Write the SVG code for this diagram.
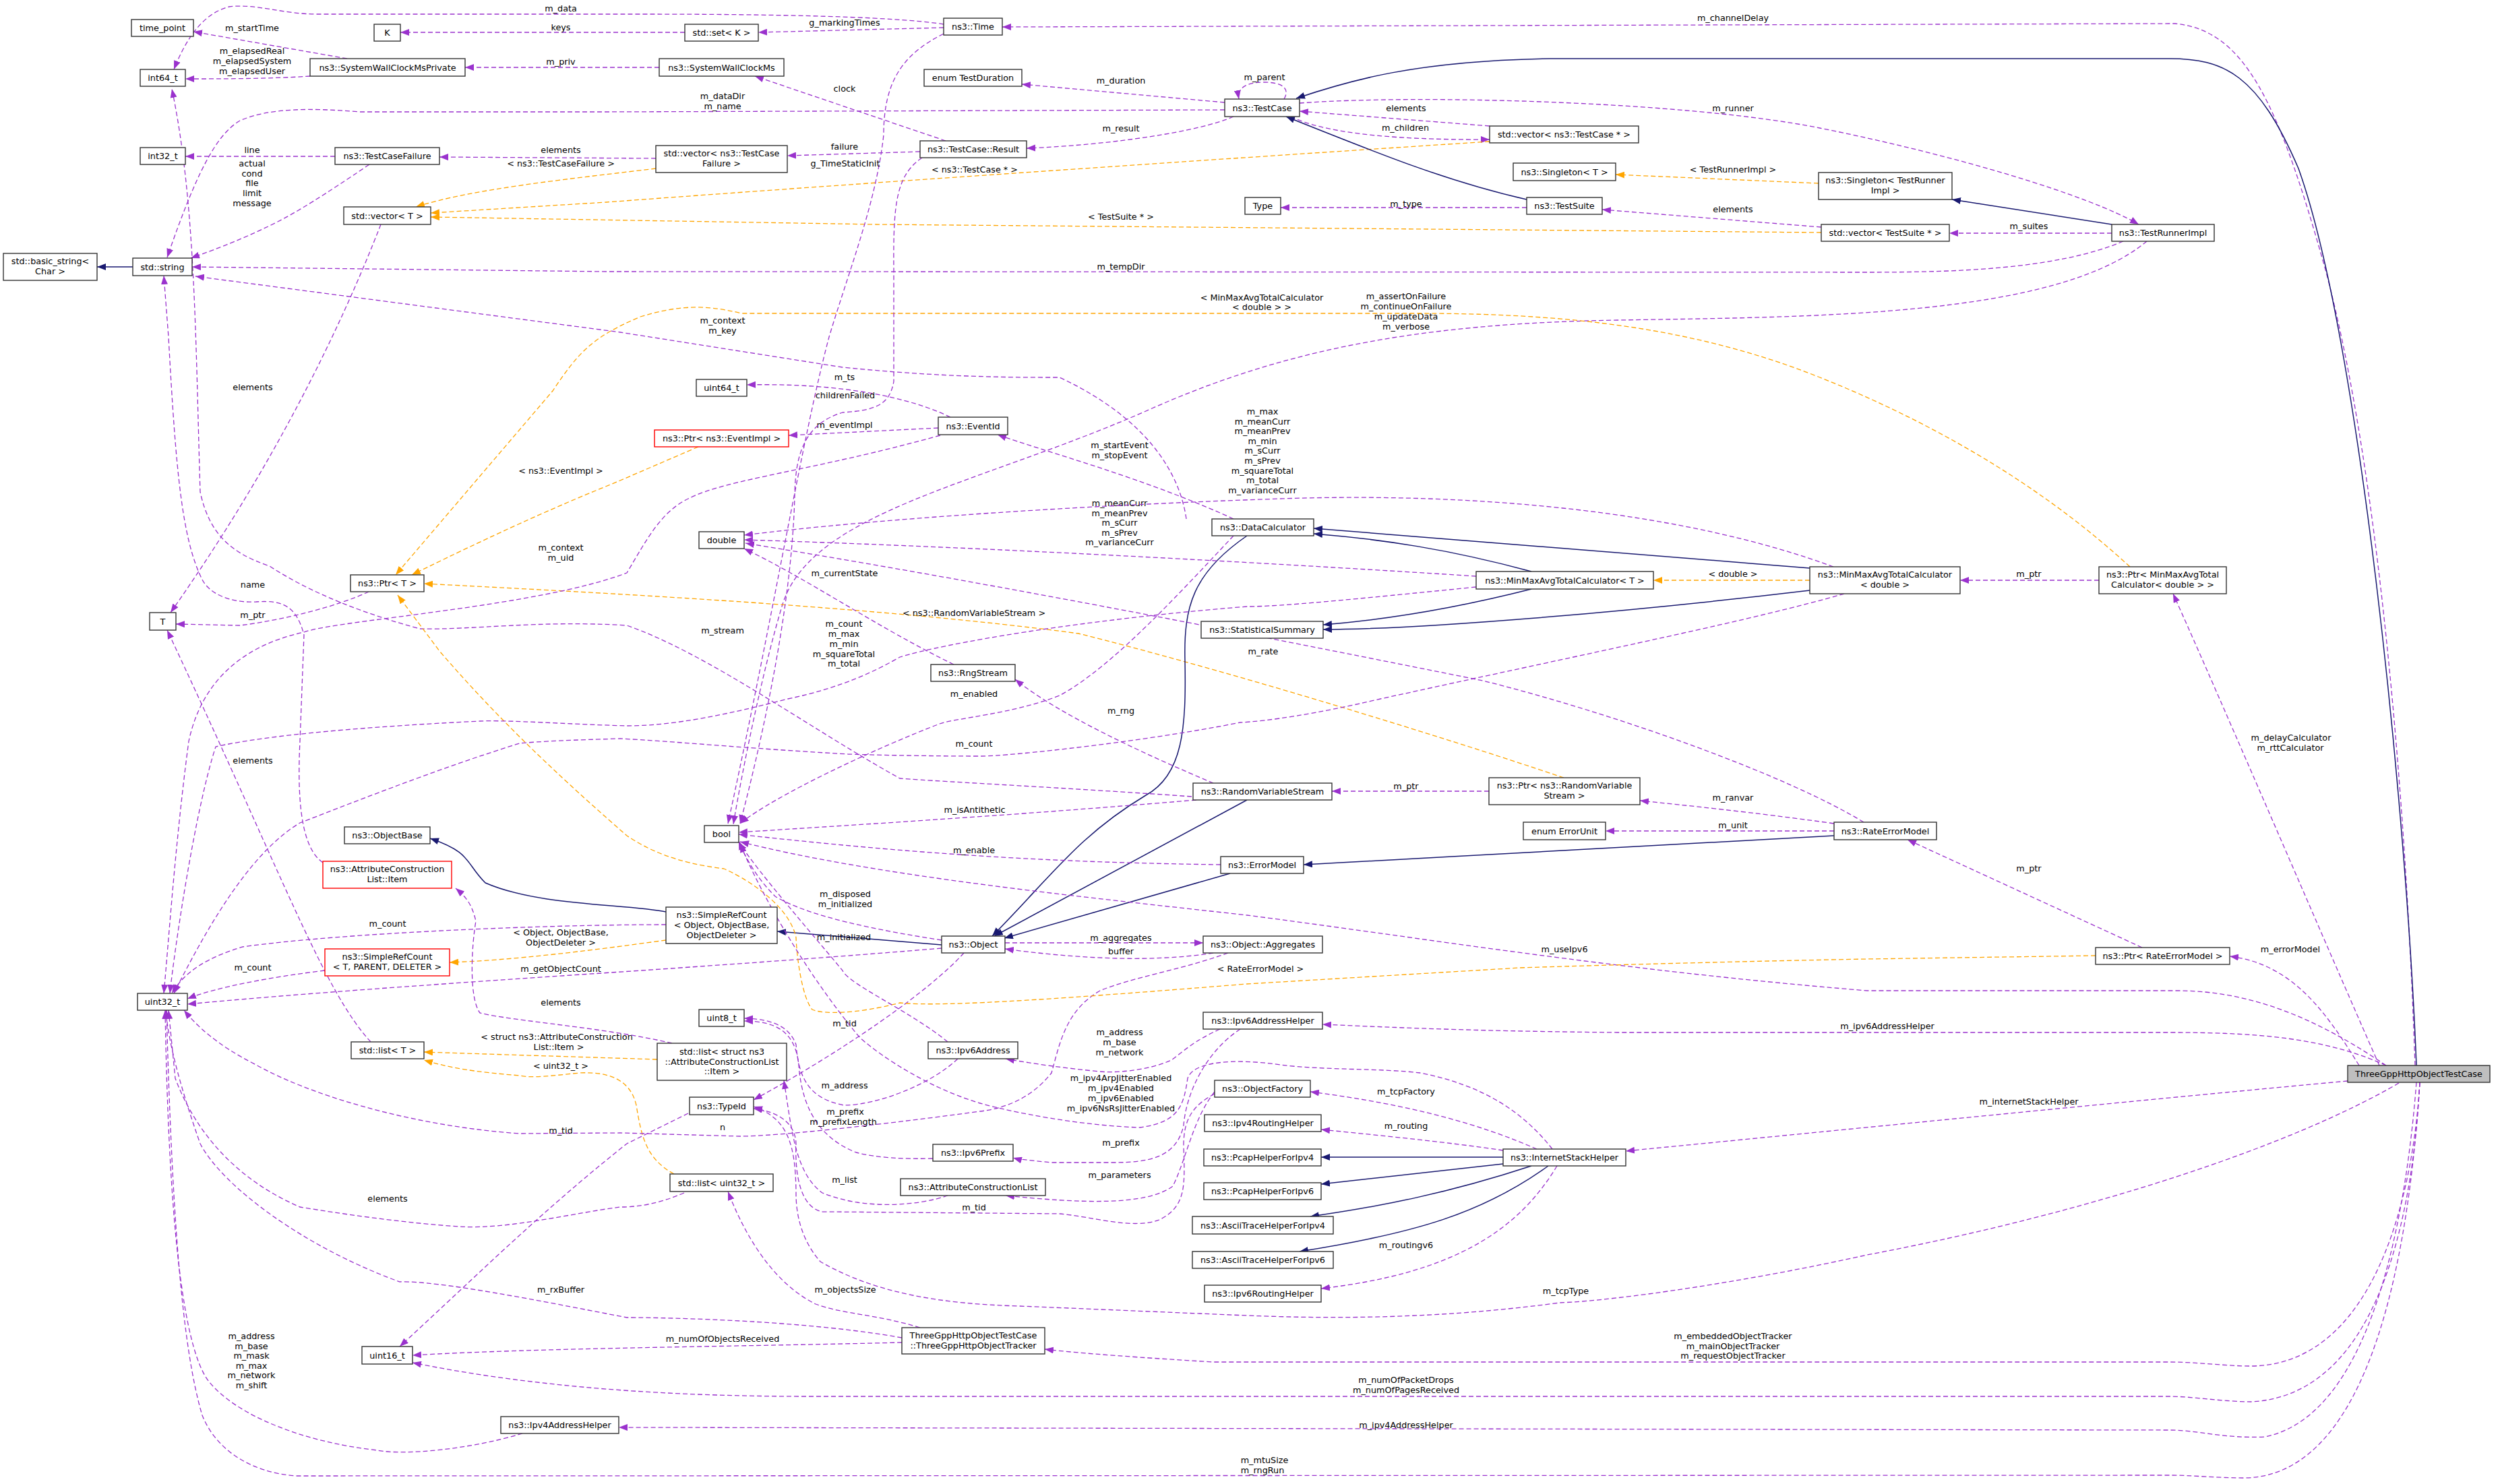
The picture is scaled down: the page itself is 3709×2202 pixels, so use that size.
<svg xmlns="http://www.w3.org/2000/svg" width="3709" height="2202" viewBox="0 0 3709 2202">
<defs>
<marker id="ap" markerUnits="userSpaceOnUse" markerWidth="14" markerHeight="10" refX="13" refY="5" orient="auto"><path d="M0,0 L13,5 L0,10 z" fill="#9a32cd"/></marker>
<marker id="an" markerUnits="userSpaceOnUse" markerWidth="14" markerHeight="10" refX="13" refY="5" orient="auto"><path d="M0,0 L13,5 L0,10 z" fill="#191970"/></marker>
<marker id="ao" markerUnits="userSpaceOnUse" markerWidth="14" markerHeight="10" refX="13" refY="5" orient="auto"><path d="M0,0 L13,5 L0,10 z" fill="#ffa500"/></marker>
<style>
.p{fill:none;stroke:#9a32cd;stroke-width:1.3;stroke-dasharray:7,4;marker-end:url(#ap)}
.n{fill:none;stroke:#191970;stroke-width:1.5;marker-end:url(#an)}
.o{fill:none;stroke:#ffa500;stroke-width:1.3;stroke-dasharray:7,4;marker-end:url(#ao)}
text{font-family:"DejaVu Sans",sans-serif;font-size:12.8px;text-anchor:middle;fill:#000}
rect{fill:#fff;stroke:#333;stroke-width:1.4}
rect.r{stroke:#ff0000}
rect.m{fill:#bfbfbf}
</style>
</defs>
<rect width="3709" height="2202" style="fill:#fff;stroke:none"/>
<g id="edges">
<path class="p" d="M1400,36 C1300,20 1000,21 900,21 L470,21 C420,21 380,5 340,10 C300,20 275,60 258,103"/><text x="832" y="17">m_data</text>
<path class="p" d="M1016,48 L594,48"/><text x="832" y="45">keys</text>
<path class="p" d="M1400,41 L1125,48"/><text x="1253" y="38">g_markingTimes</text>
<path class="p" d="M515,87 L287,47"/><text x="374" y="46">m_startTime</text>
<path class="p" d="M460,113 C400,117 330,117 275,117"/><text x="374" y="80">m_elapsedReal<tspan x="374" dy="15">m_elapsedSystem</tspan><tspan x="374" dy="15">m_elapsedUser</tspan></text>
<path class="p" d="M978,100 L690,100"/><text x="832" y="96">m_priv</text>
<path class="p" d="M1403,209 L1120,113"/><text x="1253" y="136">clock</text>
<path class="p" d="M1817,163 L900,166 L534,166 C460,160 400,160 356,179 C320,200 290,260 248,382"/><text x="1072" y="147">m_dataDir<tspan x="1072" dy="15">m_name</tspan></text>
<path class="p" d="M1817,152 L1516,125"/><text x="1663" y="124">m_duration</text>
<path class="p" d="M1830,173 C1780,195 1650,215 1523,220"/><text x="1663" y="195">m_result</text>
<path class="p" d="M1905,147 C1915,130 1900,122 1875,122 C1850,122 1835,130 1838,147"/><text x="1876" y="119">m_parent</text>
<path class="p" d="M1928,153 C2100,140 2500,150 2700,190 C2900,230 3100,290 3173,333"/><text x="2571" y="165">m_runner</text>
<path class="p" d="M2210,187 L1928,165"/><text x="2086" y="165">elements</text>
<path class="p" d="M1915,173 C1960,195 2050,208 2210,207"/><text x="2085" y="194">m_children</text>
<path class="o" d="M2210,210 C1900,230 1300,270 900,300 L639,316"/><text x="1446" y="256">&lt; ns3::TestCase * &gt;</text>
<path class="n" d="M2265,296 C2150,270 2050,230 1908,173"/>
<path class="p" d="M2265,308 L1900,308"/><text x="2086" y="307">m_type</text>
<path class="p" d="M2702,337 L2377,311"/><text x="2571" y="315">elements</text>
<path class="o" d="M2702,345 L1300,333 L639,322"/><text x="1663" y="326">&lt; TestSuite * &gt;</text>
<path class="o" d="M973,250 C850,265 700,280 617,307"/><text x="832" y="247">&lt; ns3::TestCaseFailure &gt;</text>
<path class="p" d="M973,235 L652,233"/><text x="832" y="227">elements</text>
<path class="p" d="M1365,225 L1168,231"/><text x="1253" y="222">failure</text>
<path class="p" d="M497,232 L275,232"/><text x="374" y="227">line</text>
<path class="p" d="M548,244 C480,290 440,315 410,330 C350,360 305,375 283,383"/><text x="374" y="247">actual<tspan x="374" dy="15">cond</tspan><tspan x="374" dy="14">file</tspan><tspan x="374" dy="15">limit</tspan><tspan x="374" dy="15">message</tspan></text>
<path class="n" d="M197,396 L144,396"/>
<path class="p" d="M3150,358 C3050,400 2900,404 2770,404 L900,403 L285,396"/><text x="1663" y="400">m_tempDir</text>
<path class="p" d="M1760,770 C1750,700 1700,620 1572,560 C1500,560 1400,560 1250,545 L920,493 L290,410"/><text x="1072" y="480">m_context<tspan x="1072" dy="15">m_key</tspan></text>
<path class="p" d="M3185,358 C3050,470 2700,470 2400,475 C2100,480 1900,520 1700,610 C1450,720 1200,760 1160,900 C1130,1000 1100,1150 1088,1223"/><text x="2086" y="444">m_assertOnFailure<tspan x="2086" dy="15">m_continueOnFailure</tspan><tspan x="2086" dy="15">m_updateData</tspan><tspan x="2086" dy="15">m_verbose</tspan></text>
<path class="o" d="M3160,841 C3050,740 2900,640 2700,560 C2500,480 2300,465 2100,465 L1100,465 C1040,450 1000,455 950,470 C880,500 860,520 820,580 L587,853"/><text x="1872" y="446">&lt; MinMaxAvgTotalCalculator<tspan x="1872" dy="14">&lt; double &gt; &gt;</tspan></text>
<path class="o" d="M1036,663 L920,713 C880,730 800,760 611,853"/><text x="832" y="703">&lt; ns3::EventImpl &gt;</text>
<path class="o" d="M2320,1154 C2100,1080 1800,990 1600,940 C1300,900 900,880 629,866"/><text x="1445" y="914">&lt; ns3::RandomVariableStream &gt;</text>
<path class="o" d="M2685,861 L2453,861"/><text x="2571" y="856">&lt; double &gt;</text>
<path class="p" d="M3114,861 L2908,861"/><text x="3010" y="856">m_ptr</text>
<path class="n" d="M2685,843 C2400,820 2100,795 1949,784"/>
<path class="n" d="M2685,876 C2400,910 2100,934 1963,934"/>
<path class="n" d="M2272,848 C2150,815 2050,800 1949,792"/>
<path class="n" d="M2272,874 C2150,905 2050,920 1963,927"/>
<path class="n" d="M1850,795 C1770,850 1756,900 1758,980 C1760,1080 1755,1150 1700,1180 C1600,1240 1560,1300 1472,1389"/>
<path class="n" d="M1850,1187 L1475,1389"/>
<path class="n" d="M1825,1296 L1490,1392"/>
<path class="n" d="M2721,1240 L1934,1283"/>
<path class="n" d="M1397,1402 L1153,1382"/>
<path class="n" d="M988,1353 C930,1341 800,1345 720,1310 C690,1280 700,1265 638,1244"/>
<path class="o" d="M988,1395 C880,1410 760,1425 667,1428"/><text x="832" y="1388">&lt; Object, ObjectBase,<tspan x="832" dy="15">ObjectDeleter &gt;</tspan></text>
<path class="p" d="M988,1372 C800,1372 500,1385 360,1405 C310,1420 275,1440 255,1474"/><text x="575" y="1375">m_count</text>
<path class="p" d="M482,1440 C400,1450 320,1465 278,1482"/><text x="375" y="1440">m_count</text>
<path class="p" d="M1397,1407 C1000,1440 600,1460 278,1490"/><text x="832" y="1442">m_getObjectCount</text>
<path class="p" d="M1491,1399 L1785,1399"/><text x="1663" y="1396">m_aggregates</text>
<path class="p" d="M1800,1414 C1700,1430 1580,1420 1491,1408"/><text x="1663" y="1416">buffer</text>
<path class="p" d="M1397,1395 C1300,1380 1200,1360 1150,1330 C1120,1300 1105,1270 1096,1248"/><text x="1254" y="1331">m_disposed<tspan x="1254" dy="15">m_initialized</tspan></text>
<path class="p" d="M1811,1283 C1600,1280 1400,1272 1096,1238"/><text x="1445" y="1266">m_enable</text>
<path class="p" d="M1775,1187 C1500,1210 1300,1222 1096,1235"/><text x="1446" y="1206">m_isAntithetic</text>
<path class="p" d="M3540,1581 C3450,1520 3350,1470 3230,1470 L2770,1470 C2400,1440 2100,1390 1850,1358 C1600,1330 1300,1300 1098,1249"/><text x="2321" y="1413">m_useIpv6</text>
<path class="p" d="M1415,986 C1300,930 1200,860 1104,814"/><text x="1253" y="855">m_currentState</text>
<path class="p" d="M1800,1162 C1700,1120 1570,1060 1506,1008"/><text x="1663" y="1059">m_rng</text>
<path class="p" d="M2209,1174 L1976,1174"/><text x="2086" y="1171">m_ptr</text>
<path class="p" d="M2721,1222 C2600,1205 2500,1195 2433,1188"/><text x="2571" y="1188">m_ranvar</text>
<path class="p" d="M2721,1233 L2382,1233"/><text x="2571" y="1229">m_unit</text>
<path class="p" d="M2765,1220 C2650,1150 2400,1060 2200,1010 C1900,950 1500,870 1106,806"/><text x="1874" y="971">m_rate</text>
<path class="p" d="M2190,855 C1800,830 1400,810 1104,801"/><text x="1661" y="751">m_meanCurr<tspan x="1661" dy="14.5">m_meanPrev</tspan><tspan x="1661" dy="14.5">m_sCurr</tspan><tspan x="1661" dy="14.5">m_sPrev</tspan><tspan x="1661" dy="14.5">m_varianceCurr</tspan></text>
<path class="p" d="M2720,841 C2500,760 2200,730 1900,740 C1600,750 1300,770 1104,794"/><text x="1873" y="615">m_max<tspan x="1873" dy="14.6">m_meanCurr</tspan><tspan x="1873" dy="14.6">m_meanPrev</tspan><tspan x="1873" dy="14.6">m_min</tspan><tspan x="1873" dy="14.6">m_sCurr</tspan><tspan x="1873" dy="14.6">m_sPrev</tspan><tspan x="1873" dy="14.6">m_squareTotal</tspan><tspan x="1873" dy="14.6">m_total</tspan><tspan x="1873" dy="14.6">m_varianceCurr</tspan></text>
<path class="p" d="M1830,770 C1700,710 1550,670 1480,645"/><text x="1661" y="665">m_startEvent<tspan x="1661" dy="15">m_stopEvent</tspan></text>
<path class="p" d="M1410,619 C1350,590 1250,568 1108,571"/><text x="1253" y="564">m_ts</text>
<path class="p" d="M1392,635 L1170,646"/><text x="1253" y="635">m_eventImpl</text>
<path class="p" d="M1395,646 C1200,700 1080,710 1021,740 C980,760 960,800 930,850 C800,900 500,920 451,938 C350,960 297,1020 280,1100 C260,1250 250,1400 243,1474"/><text x="832" y="817">m_context<tspan x="832" dy="15">m_uid</tspan></text>
<path class="p" d="M1368,234 C1330,260 1325,300 1326,400 L1326,566 C1320,600 1300,609 1250,612 C1190,630 1180,680 1179,736 C1175,900 1130,1100 1098,1222"/><text x="1254" y="591">childrenFailed</text>
<path class="p" d="M1400,50 C1340,80 1311,120 1311,200 C1300,300 1260,400 1230,500 C1190,650 1150,900 1080,1222"/><text x="1254" y="247">g_TimeStaticInit</text>
<path class="p" d="M1768,1182 C1600,1170 1400,1160 1335,1155 C1200,1080 1050,970 930,928 C800,920 700,935 623,933 C500,900 430,860 400,840 C340,820 310,790 297,730 C290,500 290,300 255,132"/><text x="1072" y="940">m_stream</text>
<path class="p" d="M479,1280 C450,1260 440,1200 445,1100 L451,942 C440,900 420,890 380,893 C340,895 310,880 300,860 C270,800 261,700 250,500 L243,409"/><text x="375" y="872">name</text>
<path class="p" d="M547,878 C500,900 420,920 356,928 L261,926"/><text x="375" y="917">m_ptr</text>
<path class="p" d="M565,333 C500,500 400,700 253,909"/><text x="375" y="579">elements</text>
<path class="p" d="M550,1546 C480,1470 420,1300 248,935"/><text x="375" y="1133">elements</text>
<path class="p" d="M997,1548 C900,1525 760,1515 712,1503 C695,1480 700,1400 706,1367 C700,1340 690,1330 676,1318"/><text x="832" y="1492">elements</text>
<path class="o" d="M975,1572 C850,1568 750,1565 629,1561"/><text x="826" y="1543">&lt; struct ns3::AttributeConstruction<tspan x="829" dy="15">List::Item &gt;</tspan></text>
<path class="o" d="M1000,1742 C960,1720 952,1690 944,1640 C935,1600 900,1590 860,1592 C820,1596 790,1600 771,1596 C700,1590 670,1585 629,1573"/><text x="832" y="1586">&lt; uint32_t &gt;</text>
<path class="p" d="M1406,1774 C1360,1790 1280,1795 1220,1770 C1180,1740 1175,1680 1163,1603"/><text x="1253" y="1755">m_list</text>
<path class="p" d="M1822,1414 C1750,1440 1680,1450 1632,1470 C1580,1500 1572,1550 1560,1592 C1530,1630 1490,1645 1454,1649 C1300,1670 1150,1686 1098,1686 L920,1681 L771,1682 C600,1670 450,1620 380,1580 C320,1550 290,1520 273,1499"/><text x="1072" y="1677">n</text>
<path class="p" d="M1021,1652 L930,1697 C800,1800 700,1900 593,1998"/><text x="832" y="1682">m_tid</text>
<path class="p" d="M1430,1414 C1380,1470 1250,1560 1118,1632"/><text x="1253" y="1523">m_tid</text>
<path class="p" d="M1802,1623 C1770,1640 1756,1660 1756,1700 C1758,1760 1760,1790 1720,1810 C1680,1825 1620,1805 1572,1801 L1220,1798 C1180,1790 1180,1720 1181,1697 C1180,1670 1160,1650 1118,1645"/><text x="1445" y="1796">m_tid</text>
<path class="p" d="M775,2127 C700,2150 600,2160 560,2152 C450,2140 350,2100 310,2050 C270,2000 250,1800 245,1499"/><text x="373" y="1987">m_address<tspan x="373" dy="14.6">m_base</tspan><tspan x="373" dy="14.6">m_mask</tspan><tspan x="373" dy="14.6">m_max</tspan><tspan x="373" dy="14.6">m_network</tspan><tspan x="373" dy="14.6">m_shift</tspan></text>
<path class="p" d="M3585,1606 C3570,1800 3520,2100 3360,2132 C3300,2135 3260,2122 3220,2122 L918,2118"/><text x="2086" y="2119">m_ipv4AddressHelper</text>
<path class="p" d="M3590,1606 C3575,1850 3520,2190 3330,2193 C3290,2193 3250,2189 3220,2189 L440,2190 C370,2185 320,2150 300,2100 C270,2000 255,1800 247,1499"/><text x="1876" y="2171">m_mtuSize<tspan x="1873" dy="14.5">m_rngRun</tspan></text>
<path class="p" d="M3590,1606 C3580,1800 3530,2070 3340,2080 C3300,2080 3250,2072 3220,2072 L1200,2072 C1000,2072 800,2060 612,2022"/><text x="2086" y="2052">m_numOfPacketDrops<tspan x="2086" dy="15">m_numOfPagesReceived</tspan></text>
<path class="p" d="M3590,1606 C3580,1780 3520,2025 3340,2027 C3300,2027 3260,2021 3220,2021 L1800,2021 C1700,2015 1600,2008 1550,2002"/><text x="2571" y="1987">m_embeddedObjectTracker<tspan x="2571" dy="15">m_mainObjectTracker</tspan><tspan x="2571" dy="14">m_requestObjectTracker</tspan></text>
<path class="p" d="M1338,1992 C1100,1998 800,2000 612,2011"/><text x="1072" y="1991">m_numOfObjectsReceived</text>
<path class="p" d="M1338,1985 C1200,1960 1000,1955 930,1955 C800,1930 650,1900 593,1902 C450,1850 330,1760 297,1697 C270,1620 250,1550 246,1499"/><text x="832" y="1918">m_rxBuffer</text>
<path class="p" d="M1365,1970 C1300,1950 1250,1950 1210,1935 C1140,1900 1100,1820 1080,1768"/><text x="1254" y="1918">m_objectsSize</text>
<path class="p" d="M1015,1770 C980,1785 950,1791 920,1791 C850,1800 750,1825 682,1820 C600,1815 500,1800 445,1791 C350,1750 290,1680 260,1600 L250,1499"/><text x="575" y="1783">elements</text>
<path class="p" d="M3559,1607 C3400,1700 3100,1800 2770,1862 C2600,1900 2400,1930 2314,1933 C2150,1955 2000,1958 1850,1952 L1513,1938 C1400,1935 1300,1920 1217,1872 C1180,1830 1181,1780 1181,1768 C1180,1700 1170,1660 1118,1642"/><text x="2323" y="1920">m_tcpType</text>
<path class="p" d="M3483,1604 C3200,1630 2800,1670 2412,1708"/><text x="3010" y="1639">m_internetStackHelper</text>
<path class="p" d="M3540,1581 C3450,1540 3350,1532 3220,1532 L2400,1532 C2200,1530 2100,1526 1962,1520"/><text x="2800" y="1527">m_ipv6AddressHelper</text>
<path class="p" d="M3530,1581 C3450,1400 3300,1050 3224,881"/><text x="3399" y="1099">m_delayCalculator<tspan x="3398" dy="15">m_rttCalculator</tspan></text>
<path class="p" d="M3500,1581 C3450,1500 3400,1430 3308,1419"/><text x="3398" y="1413">m_errorModel</text>
<path class="p" d="M3178,1406 L2830,1246"/><text x="3010" y="1293">m_ptr</text>
<path class="o" d="M3109,1418 L2770,1423 C2500,1428 2255,1436 2255,1436 L1850,1460 C1600,1480 1400,1495 1335,1488 C1270,1505 1220,1505 1205,1498 C1190,1480 1182,1420 1181,1391 C1170,1340 1100,1300 1074,1289 C1000,1280 960,1260 930,1240 C850,1170 750,1080 652,966 L590,883"/><text x="1870" y="1442">&lt; RateErrorModel &gt;</text>
<path class="p" d="M1810,1527 C1770,1545 1756,1560 1738,1573 C1700,1590 1650,1592 1632,1590 C1580,1585 1530,1578 1492,1571"/><text x="1661" y="1536">m_address<tspan x="1661" dy="15">m_base</tspan><tspan x="1661" dy="15">m_network</tspan></text>
<path class="p" d="M1421,1571 C1380,1610 1300,1640 1252,1640 C1200,1630 1185,1600 1181,1550 C1170,1520 1140,1512 1104,1511"/><text x="1253" y="1615">m_address</text>
<path class="p" d="M1384,1719 C1340,1720 1300,1718 1270,1710 C1220,1690 1190,1650 1185,1580 C1180,1530 1150,1515 1104,1515"/><text x="1254" y="1654">m_prefix<tspan x="1251" dy="15">m_prefixLength</tspan></text>
<path class="p" d="M1840,1527 C1790,1560 1760,1620 1756,1670 C1745,1720 1700,1725 1650,1725 L1560,1725 C1530,1722 1510,1720 1503,1718"/><text x="1663" y="1700">m_prefix</text>
<path class="p" d="M2303,1705 C2260,1650 2200,1610 2107,1592 C2050,1585 1960,1588 1900,1580 C1830,1570 1770,1575 1762,1600 C1756,1640 1750,1665 1691,1673 C1600,1670 1500,1650 1454,1637 C1380,1615 1310,1570 1276,1540 C1200,1450 1130,1330 1098,1252"/><text x="1663" y="1604">m_ipv4ArpJitterEnabled<tspan x="1663" dy="15">m_ipv4Enabled</tspan><tspan x="1663" dy="15">m_ipv6Enabled</tspan><tspan x="1663" dy="15">m_ipv6NsRsJitterEnabled</tspan></text>
<path class="p" d="M1802,1620 C1770,1660 1760,1720 1740,1760 C1700,1790 1600,1785 1492,1774"/><text x="1661" y="1748">m_parameters</text>
<path class="p" d="M2280,1705 C2200,1670 2100,1640 1944,1620"/><text x="2086" y="1624">m_tcpFactory</text>
<path class="p" d="M2230,1707 C2150,1695 2050,1685 1960,1676"/><text x="2086" y="1675">m_routing</text>
<path class="n" d="M2230,1717 L1960,1717"/>
<path class="n" d="M2230,1727 L1960,1757"/>
<path class="n" d="M2272,1730 C2150,1770 2050,1790 1944,1805"/>
<path class="n" d="M2297,1730 C2200,1800 2100,1830 1928,1857"/>
<path class="p" d="M2310,1730 C2250,1830 2150,1890 1960,1912"/><text x="2086" y="1852">m_routingv6</text>
<path class="p" d="M1406,1546 C1350,1500 1258,1460 1250,1440 C1200,1380 1130,1300 1096,1250"/><text x="1252" y="1395">m_initialized</text>
<path class="p" d="M3583,1581 C3570,1200 3530,700 3450,400 C3380,150 3330,45 3227,35 L1487,40"/><text x="2571" y="31">m_channelDelay</text>
<path class="n" d="M3585,1581 C3570,1200 3500,500 3410,250 C3350,110 3300,87 3218,87 L2300,87 C2100,90 2000,120 1923,146"/>
<path class="n" d="M3133,333 L2896,296"/>
<path class="o" d="M2698,272 L2397,259"/><text x="2571" y="256">&lt; TestRunnerImpl &gt;</text>
<path class="p" d="M3133,346 L2892,346"/><text x="3010" y="340">m_suites</text>
<path class="p" d="M1830,795 C1750,880 1650,990 1572,1032 C1500,1060 1420,1065 1394,1074 C1300,1110 1150,1180 1098,1222"/><text x="1445" y="1034">m_enabled</text>
<path class="p" d="M2190,871 C2000,890 1900,900 1850,900 C1600,920 1400,955 1335,975 C1300,995 1250,1020 1169,1037 C1080,1060 1000,1077 930,1077 C850,1075 750,1068 712,1070 C550,1078 400,1090 320,1108 C290,1200 260,1400 252,1474"/><text x="1252" y="930">m_count<tspan x="1252" dy="15">m_max</tspan><tspan x="1252" dy="15">m_min</tspan><tspan x="1252" dy="15">m_squareTotal</tspan><tspan x="1252" dy="14">m_total</tspan></text>
<path class="p" d="M2736,881 C2600,920 2400,960 2048,1037 C1950,1060 1880,1070 1840,1072 C1700,1100 1500,1122 1454,1122 C1350,1122 1260,1119 1258,1119 C1100,1110 1000,1100 920,1096 C850,1098 800,1100 771,1103 C650,1140 500,1200 445,1221 C380,1260 320,1350 258,1474"/><text x="1445" y="1108">m_count</text>
</g>
<g id="n_time_point"><rect x="195" y="29" width="92" height="25"/><text x="241" y="46">time_point</text></g>
<g id="n_K"><rect x="555" y="36" width="39" height="25"/><text x="574.5" y="53">K</text></g>
<g id="n_int64"><rect x="208" y="103" width="67" height="25"/><text x="241.5" y="120">int64_t</text></g>
<g id="n_swcmp"><rect x="460" y="87" width="230" height="26"/><text x="575" y="104.5">ns3::SystemWallClockMsPrivate</text></g>
<g id="n_int32"><rect x="208" y="219" width="67" height="25"/><text x="241.5" y="236">int32_t</text></g>
<g id="n_tcf"><rect x="497" y="219" width="155" height="25"/><text x="574.5" y="236">ns3::TestCaseFailure</text></g>
<g id="n_vecT"><rect x="510" y="307" width="129" height="26"/><text x="574.5" y="324.5">std::vector&lt; T &gt;</text></g>
<g id="n_bstr"><rect x="5" y="376" width="139" height="40"/><text x="74.5" y="392">std::basic_string&lt;<tspan x="74.5" dy="15">Char &gt;</tspan></text></g>
<g id="n_str"><rect x="197" y="383" width="88" height="26"/><text x="241" y="400.5">std::string</text></g>
<g id="n_time"><rect x="1400" y="27" width="87" height="25"/><text x="1443.5" y="44">ns3::Time</text></g>
<g id="n_setK"><rect x="1016" y="36" width="109" height="25"/><text x="1070.5" y="53">std::set&lt; K &gt;</text></g>
<g id="n_swcm"><rect x="978" y="87" width="185" height="26"/><text x="1070.5" y="104.5">ns3::SystemWallClockMs</text></g>
<g id="n_tdur"><rect x="1371" y="103" width="145" height="25"/><text x="1443.5" y="120">enum TestDuration</text></g>
<g id="n_tc"><rect x="1817" y="147" width="111" height="26"/><text x="1872.5" y="164.5">ns3::TestCase</text></g>
<g id="n_tcres"><rect x="1365" y="209" width="158" height="25"/><text x="1444" y="226">ns3::TestCase::Result</text></g>
<g id="n_vtcf"><rect x="973" y="216" width="195" height="40"/><text x="1070.5" y="232">std::vector&lt; ns3::TestCase<tspan x="1070.5" dy="15">Failure &gt;</tspan></text></g>
<g id="n_u64"><rect x="1033" y="563" width="75" height="25"/><text x="1070.5" y="580">uint64_t</text></g>
<g id="n_ptrev"><rect class="r" x="971" y="638" width="199" height="25"/><text x="1070.5" y="655">ns3::Ptr&lt; ns3::EventImpl &gt;</text></g>
<g id="n_evid"><rect x="1392" y="619" width="103" height="26"/><text x="1443.5" y="636.5">ns3::EventId</text></g>
<g id="n_vtc"><rect x="2210" y="187" width="221" height="25"/><text x="2320.5" y="204">std::vector&lt; ns3::TestCase * &gt;</text></g>
<g id="n_singT"><rect x="2245" y="242" width="152" height="26"/><text x="2321" y="259.5">ns3::Singleton&lt; T &gt;</text></g>
<g id="n_type"><rect x="1847" y="293" width="53" height="25"/><text x="1873.5" y="310">Type</text></g>
<g id="n_ts"><rect x="2265" y="293" width="112" height="25"/><text x="2321" y="310">ns3::TestSuite</text></g>
<g id="n_singTR"><rect x="2698" y="256" width="198" height="40"/><text x="2797" y="272">ns3::Singleton&lt; TestRunner<tspan x="2797" dy="15">Impl &gt;</tspan></text></g>
<g id="n_vts"><rect x="2702" y="333" width="190" height="25"/><text x="2797" y="350">std::vector&lt; TestSuite * &gt;</text></g>
<g id="n_tri"><rect x="3133" y="333" width="152" height="25"/><text x="3209" y="350">ns3::TestRunnerImpl</text></g>
<g id="n_main"><rect class="m" x="3483" y="1581" width="211" height="25"/><text x="3588.5" y="1598">ThreeGppHttpObjectTestCase</text></g>
<g id="n_ptrT"><rect x="520" y="853" width="109" height="25"/><text x="574.5" y="870">ns3::Ptr&lt; T &gt;</text></g>
<g id="n_T"><rect x="222" y="909" width="39" height="26"/><text x="241.5" y="926.5">T</text></g>
<g id="n_objbase"><rect x="511" y="1227" width="127" height="25"/><text x="574.5" y="1244">ns3::ObjectBase</text></g>
<g id="n_acli"><rect class="r" x="479" y="1278" width="191" height="40"/><text x="574.5" y="1294">ns3::AttributeConstruction<tspan x="574.5" dy="15">List::Item</tspan></text></g>
<g id="n_srcT"><rect class="r" x="482" y="1408" width="185" height="40"/><text x="574.5" y="1424">ns3::SimpleRefCount<tspan x="574.5" dy="15">&lt; T, PARENT, DELETER &gt;</tspan></text></g>
<g id="n_u32"><rect x="204" y="1474" width="74" height="25"/><text x="241" y="1491">uint32_t</text></g>
<g id="n_listT"><rect x="521" y="1546" width="108" height="25"/><text x="575" y="1563">std::list&lt; T &gt;</text></g>
<g id="n_u16"><rect x="537" y="1998" width="75" height="26"/><text x="574.5" y="2015.5">uint16_t</text></g>
<g id="n_ip4ah"><rect x="743" y="2102" width="175" height="25"/><text x="830.5" y="2119">ns3::Ipv4AddressHelper</text></g>
<g id="n_double"><rect x="1037" y="789" width="67" height="25"/><text x="1070.5" y="806">double</text></g>
<g id="n_dc"><rect x="1798" y="770" width="151" height="25"/><text x="1873.5" y="787">ns3::DataCalculator</text></g>
<g id="n_ss"><rect x="1782" y="922" width="181" height="25"/><text x="1872.5" y="939">ns3::StatisticalSummary</text></g>
<g id="n_rng"><rect x="1381" y="986" width="125" height="25"/><text x="1443.5" y="1003">ns3::RngStream</text></g>
<g id="n_rvs"><rect x="1770" y="1162" width="206" height="25"/><text x="1873" y="1179">ns3::RandomVariableStream</text></g>
<g id="n_bool"><rect x="1045" y="1225" width="51" height="25"/><text x="1070.5" y="1242">bool</text></g>
<g id="n_em"><rect x="1811" y="1271" width="123" height="25"/><text x="1872.5" y="1288">ns3::ErrorModel</text></g>
<g id="n_srcO"><rect x="988" y="1346" width="165" height="54"/><text x="1070.5" y="1362">ns3::SimpleRefCount<tspan x="1070.5" dy="15">&lt; Object, ObjectBase,</tspan><tspan x="1070.5" dy="15">ObjectDeleter &gt;</tspan></text></g>
<g id="n_obj"><rect x="1397" y="1389" width="94" height="25"/><text x="1444" y="1406">ns3::Object</text></g>
<g id="n_agg"><rect x="1785" y="1389" width="177" height="25"/><text x="1873.5" y="1406">ns3::Object::Aggregates</text></g>
<g id="n_mmT"><rect x="2190" y="848" width="263" height="26"/><text x="2321.5" y="865.5">ns3::MinMaxAvgTotalCalculator&lt; T &gt;</text></g>
<g id="n_mmD"><rect x="2685" y="841" width="223" height="40"/><text x="2796.5" y="857">ns3::MinMaxAvgTotalCalculator<tspan x="2796.5" dy="15">&lt; double &gt;</tspan></text></g>
<g id="n_ptrrvs"><rect x="2209" y="1154" width="224" height="40"/><text x="2321" y="1170">ns3::Ptr&lt; ns3::RandomVariable<tspan x="2321" dy="15">Stream &gt;</tspan></text></g>
<g id="n_eu"><rect x="2260" y="1220" width="122" height="26"/><text x="2321" y="1237.5">enum ErrorUnit</text></g>
<g id="n_rem"><rect x="2721" y="1220" width="152" height="26"/><text x="2797" y="1237.5">ns3::RateErrorModel</text></g>
<g id="n_ptrmm"><rect x="3114" y="841" width="189" height="40"/><text x="3208.5" y="857">ns3::Ptr&lt; MinMaxAvgTotal<tspan x="3208.5" dy="15">Calculator&lt; double &gt; &gt;</tspan></text></g>
<g id="n_ptrrem"><rect x="3109" y="1406" width="199" height="25"/><text x="3208.5" y="1423">ns3::Ptr&lt; RateErrorModel &gt;</text></g>
<g id="n_u8"><rect x="1037" y="1498" width="67" height="25"/><text x="1070.5" y="1515">uint8_t</text></g>
<g id="n_lstr"><rect x="975" y="1548" width="192" height="55"/><text x="1071" y="1565">std::list&lt; struct ns3<tspan x="1071" dy="14.5">::AttributeConstructionList</tspan><tspan x="1071" dy="14.5">::Item &gt;</tspan></text></g>
<g id="n_tid"><rect x="1023" y="1628" width="95" height="26"/><text x="1070.5" y="1645.5">ns3::TypeId</text></g>
<g id="n_lu32"><rect x="994" y="1742" width="153" height="26"/><text x="1070.5" y="1759.5">std::list&lt; uint32_t &gt;</text></g>
<g id="n_ip6a"><rect x="1377" y="1546" width="133" height="25"/><text x="1443.5" y="1563">ns3::Ipv6Address</text></g>
<g id="n_ip6p"><rect x="1384" y="1698" width="119" height="25"/><text x="1443.5" y="1715">ns3::Ipv6Prefix</text></g>
<g id="n_acl"><rect x="1336" y="1749" width="215" height="25"/><text x="1443.5" y="1766">ns3::AttributeConstructionList</text></g>
<g id="n_tracker"><rect x="1338" y="1970" width="212" height="39"/><text x="1444" y="1985.5">ThreeGppHttpObjectTestCase<tspan x="1444" dy="15">::ThreeGppHttpObjectTracker</tspan></text></g>
<g id="n_ip6ah"><rect x="1785" y="1502" width="177" height="25"/><text x="1873.5" y="1519">ns3::Ipv6AddressHelper</text></g>
<g id="n_of"><rect x="1802" y="1603" width="142" height="25"/><text x="1873" y="1620">ns3::ObjectFactory</text></g>
<g id="n_ip4rh"><rect x="1787" y="1654" width="173" height="25"/><text x="1873.5" y="1671">ns3::Ipv4RoutingHelper</text></g>
<g id="n_p4"><rect x="1786" y="1705" width="174" height="25"/><text x="1873" y="1722">ns3::PcapHelperForIpv4</text></g>
<g id="n_p6"><rect x="1786" y="1755" width="174" height="25"/><text x="1873" y="1772">ns3::PcapHelperForIpv6</text></g>
<g id="n_a4"><rect x="1769" y="1805" width="209" height="26"/><text x="1873.5" y="1822.5">ns3::AsciiTraceHelperForIpv4</text></g>
<g id="n_a6"><rect x="1769" y="1857" width="209" height="25"/><text x="1873.5" y="1874">ns3::AsciiTraceHelperForIpv6</text></g>
<g id="n_ip6rh"><rect x="1787" y="1907" width="173" height="25"/><text x="1873.5" y="1924">ns3::Ipv6RoutingHelper</text></g>
<g id="n_ish"><rect x="2230" y="1705" width="182" height="25"/><text x="2321" y="1722">ns3::InternetStackHelper</text></g>
</svg>
